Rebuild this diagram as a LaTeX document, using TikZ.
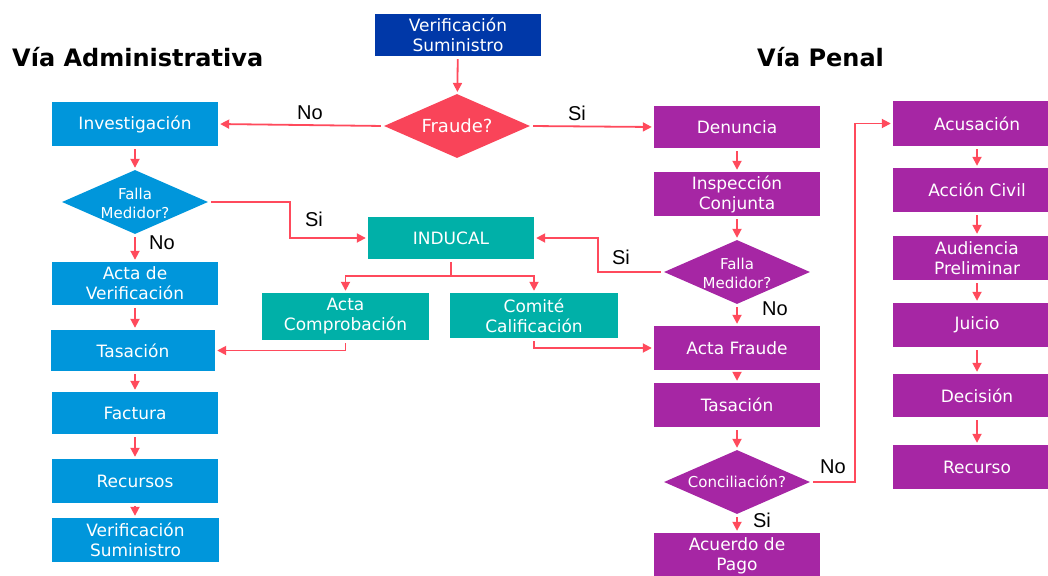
\documentclass[tikz,border=0pt]{standalone}
\usepackage{fontspec}
\setmainfont{DejaVu Sans}
\newfontfamily\labfont{Liberation Sans}
\usetikzlibrary{shapes.geometric,arrows.meta}
\definecolor{cblue}{HTML}{0096DB}
\definecolor{cnavy}{HTML}{0038A8}
\definecolor{cteal}{HTML}{00B0A8}
\definecolor{cpurp}{HTML}{A626A4}
\definecolor{cred}{HTML}{F94459}
\definecolor{carrow}{HTML}{FF4A5C}
\begin{document}
\begin{tikzpicture}[x=1pt,y=-1pt,
  box/.style={rectangle, inner sep=0pt, text=white, align=center, font=\fontsize{17}{20}\selectfont},
  dia/.style={diamond, inner sep=0pt, minimum width=146pt, minimum height=64pt},
  dtext/.style={text=white, align=center, inner sep=0pt, font=\fontsize{15}{19}\selectfont},
  conn/.style={draw=carrow, line width=1.8pt, -{Triangle[length=9pt,width=9pt]}, shorten <=3pt, shorten >=2pt},
  lbl/.style={font=\labfont\fontsize{20}{24}\selectfont, text=black, inner sep=0pt},
  ttl/.style={font=\bfseries\fontsize{24}{28}\selectfont, text=black, inner sep=0pt, anchor=base west}]
\useasboundingbox (0,0) rectangle (1048,575);
\clip (0,0) rectangle (1048,575);

% titles
\node[ttl] (ta) at (12,67) {Vía Administrativa};
\node[ttl] (tp) at (757,67) {Vía Penal};

% top
\node[box, fill=cnavy, minimum width=166pt, minimum height=42pt] (vert) at (458,35) {Verificación\\Suministro};
\node[dia, fill=cred] (fraude) at (457,126) {};
\node[dtext, font=\fontsize{18}{20}\selectfont] (fraudet) at (457,126) {Fraude?};

% left column
\node[box, fill=cblue, minimum width=166pt, minimum height=44pt] (inv) at (135,124) {Investigación};
\node[dia, fill=cblue] (fallal) at (135,202) {};
\node[dtext] (fallalt) at (135,203) {Falla\\Medidor?};
\node[box, fill=cblue, minimum width=166pt, minimum height=43pt] (actav) at (135,283.5) {Acta de\\Verificación};
\node[box, fill=cblue, minimum width=164pt, minimum height=41pt] (tasl) at (133,350.5) {Tasación};
\node[box, fill=cblue, minimum width=166pt, minimum height=42pt] (fact) at (135,413) {Factura};
\node[box, fill=cblue, minimum width=166pt, minimum height=44pt] (recl) at (135,481) {Recursos};
\node[box, fill=cblue, minimum width=167pt, minimum height=44pt] (verl) at (135.5,540) {Verificación\\Suministro};

% middle
\node[box, fill=cteal, minimum width=166pt, minimum height=42pt] (induc) at (451,238) {INDUCAL};
\node[box, fill=cteal, minimum width=167pt, minimum height=47pt] (acomp) at (345.5,316.5) {Acta\\Comprobación};
\node[box, fill=cteal, minimum width=168pt, minimum height=45pt] (comite) at (534,315.5) {Comité\\Calificación};

% penal column 1
\node[box, fill=cpurp, minimum width=166pt, minimum height=42pt] (den) at (737,127) {Denuncia};
\node[box, fill=cpurp, minimum width=166pt, minimum height=44pt] (insp) at (737,194) {Inspección\\Conjunta};
\node[dia, fill=cpurp] (fallar) at (737,272) {};
\node[dtext] (fallart) at (737,273) {Falla\\Medidor?};
\node[box, fill=cpurp, minimum width=166pt, minimum height=44pt] (actaf) at (737,348) {Acta Fraude};
\node[box, fill=cpurp, minimum width=166pt, minimum height=44pt] (tasr) at (737,405) {Tasación};
\node[dia, fill=cpurp] (conc) at (737,482) {};
\node[dtext] (conct) at (737,482) {Conciliación?};
\node[box, fill=cpurp, minimum width=166pt, minimum height=46pt] (acu) at (737,556) {Acuerdo de\\Pago};

% penal column 2
\node[box, fill=cpurp, minimum width=168pt, minimum height=45pt] (acus) at (977,123.5) {Acusación};
\node[box, fill=cpurp, minimum width=168pt, minimum height=44pt] (accion) at (977,190) {Acción Civil};
\node[box, fill=cpurp, minimum width=168pt, minimum height=44pt] (aud) at (977,258) {Audiencia\\Preliminar};
\node[box, fill=cpurp, minimum width=168pt, minimum height=44pt] (juicio) at (977,325) {Juicio};
\node[box, fill=cpurp, minimum width=168pt, minimum height=43pt] (deci) at (977,395.5) {Decisión};
\node[box, fill=cpurp, minimum width=168pt, minimum height=44pt] (recu) at (977,467) {Recurso};

% helper coordinates
\coordinate (k1) at (290,0);
\coordinate (k2) at (598,0);
\coordinate (k3) at (855,0);

% connectors
\draw[conn] (vert) -- (fraude);
\draw[conn] (fraude.west) -- (inv.east);
\draw[conn] (fraude.east) -- (den.west);
\draw[conn] (inv) -- (fallal);
\draw[conn] (fallal.east) -- (fallal.east -| k1) -- (k1 |- induc.west) -- (induc.west);
\draw[conn] (fallal) -- (actav);
\draw[conn] (actav) -- (tasl.north -| actav.south);
\draw[conn] (tasl.south -| fact.north) -- (fact);
\draw[conn] (fact) -- (recl);
\draw[conn] (recl) -- (verl.north -| recl.south);
\draw[conn] (induc.south) -- ++(0,17) -| (acomp.north);
\draw[conn] (induc.south) -- ++(0,17) -| (comite.north);
\draw[conn] (acomp.south) |- (tasl.east);
\draw[conn] (comite.south) |- (actaf.west);
\draw[conn] (fallar.west) -- (fallar.west -| k2) -- (k2 |- induc.east) -- (induc.east);
\draw[conn] (den) -- (insp);
\draw[conn] (insp) -- (fallar);
\draw[conn] (fallar) -- (actaf);
\draw[conn] (actaf) -- (tasr);
\draw[conn] (tasr) -- (conc);
\draw[conn] (conc) -- (acu);
\draw[conn] (conc.east) -- (conc.east -| k3) -- (k3 |- acus.west) -- (acus.west);
\draw[conn] (acus) -- (accion);
\draw[conn] (accion) -- (aud);
\draw[conn] (aud) -- (juicio);
\draw[conn] (juicio) -- (deci);
\draw[conn] (deci) -- (recu);

% labels
\node[lbl] (l1) at (310,113) {No};
\node[lbl] (l2) at (577,113) {Si};
\node[lbl] (l3) at (314,219) {Si};
\node[lbl] (l4) at (162,243) {No};
\node[lbl] (l5) at (621,257) {Si};
\node[lbl] (l6) at (775,309) {No};
\node[lbl] (l7) at (833,467) {No};
\node[lbl] (l8) at (762,520) {Si};
\end{tikzpicture}
\end{document}
